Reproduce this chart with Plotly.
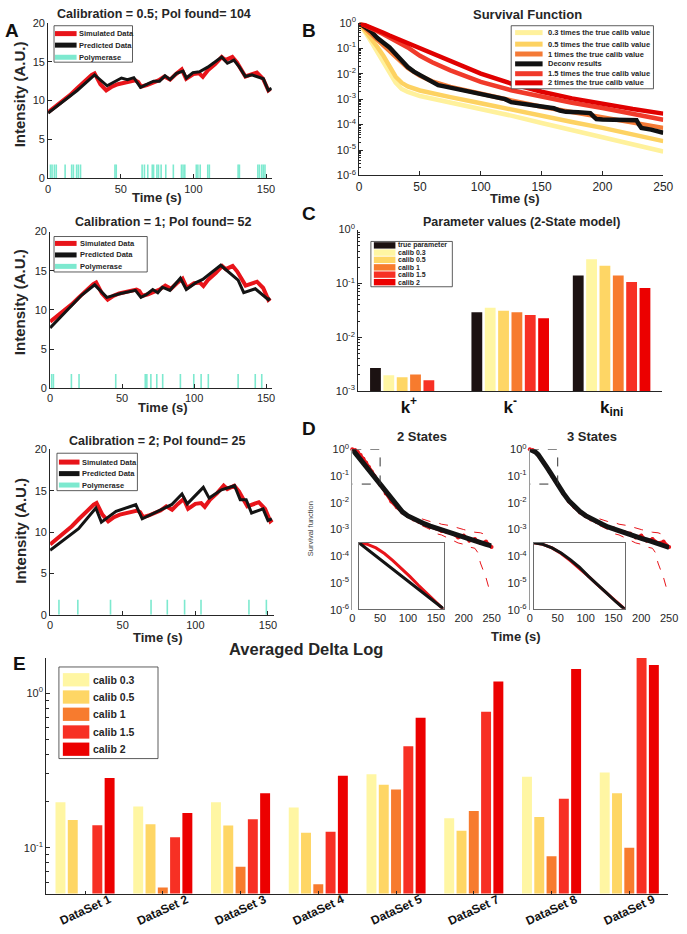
import plotly.graph_objects as go

W, H = 687, 934
FONT = "Liberation Sans, Arial, Helvetica, sans-serif"
TXT = "#262626"

# ---------------- Panel A : intensity traces ----------------
sim_t = [0, 5, 10, 15, 20, 25, 30, 32, 36, 40, 44, 48, 52, 56, 60, 62, 64, 68, 72, 76,
         80, 84, 88, 92, 95, 100, 104, 106.5, 110, 115, 119.5, 122, 126.8, 130, 135.8, 140, 143.7, 148, 151.6, 153]
sim_I = [8.5, 9.2, 9.9, 10.7, 11.6, 12.5, 13.3, 13.5, 12.1, 11.3, 11.8, 12.1, 12.3, 12.5, 12.6, 12.4, 11.8, 12.0, 12.3, 12.6,
         13.1, 12.7, 13.4, 14.0, 12.8, 13.4, 13.5, 13.05, 13.9, 14.7, 15.6, 15.2, 15.6, 14.9, 13.1, 13.4, 13.6, 12.8, 11.3, 11.5]

pred1_t = [0, 10, 20, 32, 40.6, 50.5, 54.6, 59, 63.6, 69.3, 72.6, 76.7, 80.5, 83.9, 88.4, 92.9, 95.2, 99.7, 104.2, 109.9,
           119.5, 123.4, 127.9, 131.7, 135.8, 140.3, 144.8, 148.2, 151.6, 153.8]
pred1_I = [8.4, 9.8, 11.3, 13.3, 11.9, 12.9, 12.7, 12.95, 11.7, 12.2, 12.5, 12.5, 13.2, 12.7, 13.5, 13.8, 12.9, 13.6, 13.7, 14.3,
           15.6, 14.8, 15.2, 14.3, 13.1, 13.3, 13.05, 12.8, 11.3, 11.6]

pred2_t = [0, 12.5, 22, 31, 39.4, 49, 59.3, 63.1, 67.2, 71.3, 74.8, 78, 83.2, 90.5, 94.6, 101.4, 106, 118.5, 130.6, 134.5,
           142.5, 151.6, 152.7]
pred2_I = [7.7, 10.1, 11.9, 13.2, 11.6, 12.1, 12.5, 11.6, 12.0, 12.6, 12.2, 12.9, 12.5, 14.05, 12.6, 13.5, 13.9, 15.7, 13.8, 12.2,
           12.7, 11.3, 11.5]

pred3_t = [0, 19.6, 31.5, 35.3, 45.4, 59, 63.4, 73.5, 83.6, 90.8, 94.4, 105.5, 109.5, 118, 127, 130.9, 135, 138.7, 146.6, 150, 152.7]
pred3_I = [7.8, 10.4, 12.9, 11.2, 12.5, 13.3, 11.6, 12.5, 13.3, 14.6, 13.4, 15.4, 14.1, 15.1, 15.6, 13.9, 13.9, 12.3, 12.8, 11.4, 11.6]

pol1 = [1.6, 2.7, 4.3, 5.6, 11.7, 16.2, 17.4, 19.6, 20.8, 22.3, 46.0, 46.9, 64.7, 66.3, 68.6, 71.7, 72.6, 74.9, 76.0, 77.8,
        81.0, 86.2, 91.8, 92.9, 94.1, 102.0, 103.1, 104.7, 109.9, 111.0, 130.8, 131.7, 144.4, 145.5, 147.1, 148.2, 149.3]
pol2 = [1.1, 2.3, 14.8, 20.1, 45.6, 66.1, 67.2, 70.0, 74.1, 78.2, 90.5, 99.8, 104.9, 109.9, 130.6, 142.5, 147.0]
pol3 = [6.1, 19.1, 41.6, 69.5, 80.7, 92.6, 103.9, 136.9, 148.9]
pol_height = 1.8

a_titles = ["Calibration = 0.5; Pol found= 104", "Calibration = 1; Pol found= 52", "Calibration = 2; Pol found= 25"]

# ---------------- Panel B : survival functions (log10 values) ----------------
B_t = [0, 5, 10, 15, 20, 25, 30, 35, 40, 50, 60, 75, 100, 125, 150, 175, 200, 225, 250]
B_c03 = [0, -0.35, -0.75, -1.15, -1.55, -1.95, -2.35, -2.6, -2.72, -2.88, -2.98, -3.12, -3.37, -3.65, -3.94, -4.23, -4.52, -4.79, -5.06]
B_c05 = [0, -0.3, -0.62, -0.95, -1.3, -1.75, -2.12, -2.36, -2.5, -2.66, -2.78, -2.92, -3.16, -3.42, -3.68, -3.9, -4.13, -4.39, -4.65]
B_c1 = [0, -0.22, -0.45, -0.68, -0.92, -1.15, -1.38, -1.58, -1.78, -2.08, -2.3, -2.52, -2.8, -3.05, -3.3, -3.5, -3.7, -3.9, -4.13]
B_c15 = [0, -0.1, -0.21, -0.33, -0.45, -0.58, -0.71, -0.84, -0.97, -1.3, -1.55, -1.87, -2.32, -2.65, -2.9, -3.14, -3.35, -3.57, -3.81]
B_c2 = [0, -0.09, -0.19, -0.29, -0.39, -0.5, -0.6, -0.7, -0.8, -0.97, -1.17, -1.48, -2.0, -2.39, -2.71, -2.97, -3.19, -3.39, -3.57]
B_dec_t = [0, 5, 10, 15, 20, 25, 30, 35, 40, 45, 50, 55, 60, 65, 70, 80, 90, 100, 110, 115,
           120, 125, 130, 140, 150, 160, 165, 170, 180, 190, 193, 195, 200, 210, 220, 228, 230, 232, 240, 250]
B_dec = [0, -0.15, -0.35, -0.6, -0.8, -0.97, -1.23, -1.5, -1.74, -1.92, -2.06, -2.2, -2.33, -2.45, -2.5, -2.6, -2.72, -2.84, -2.92, -2.97,
         -3.0, -3.12, -3.16, -3.22, -3.29, -3.36, -3.45, -3.5, -3.52, -3.55, -3.7, -3.78, -3.8, -3.81, -3.82, -3.83, -4.0, -4.13, -4.2, -4.32]
B_names = ["0.3 times the true calib value", "0.5 times the true calib value", "1 times the true calib value",
           "Deconv results", "1.5 times the true calib value", "2 times the true calib value"]

# ---------------- Panel C : parameter values ----------------
C_params = ["k+", "k-", "kini"]
C_ticktext = ["<b>k<sup>+</sup></b>", "<b>k<sup>-</sup></b>", "<b>k<sub>ini</sub></b>"]
C_true = [2.68e-3, 0.0291, 0.14]
C_c03 = [1.97e-3, 0.0355, 0.283]
C_c05 = [1.81e-3, 0.0313, 0.213]
C_c1 = [2.05e-3, 0.0291, 0.14]
C_c15 = [1.6e-3, 0.026, 0.106]
C_c2 = [None, 0.0226, 0.0824]

# ---------------- Panel D : survival fits (log10 values) ----------------
D_t = [0, 5, 10, 15, 20, 25, 30, 35, 40, 45, 50, 60, 70, 80, 90, 100, 110, 120, 130, 140,
       150, 160, 170, 180, 190, 200, 210, 220, 230, 240, 250]
D_data = [0, -0.03, -0.1, -0.21, -0.35, -0.5, -0.66, -0.83, -1.0, -1.17, -1.33, -1.65, -1.95, -2.17, -2.36, -2.5, -2.62, -2.72, -2.82, -2.9,
          -2.95, -3.05, -3.1, -3.15, -3.3, -3.22, -3.42, -3.35, -3.5, -3.45, -3.65]
D_fit2 = [0, -0.13, -0.26, -0.39, -0.52, -0.65, -0.78, -0.91, -1.04, -1.17, -1.3, -1.58, -1.87, -2.13, -2.34, -2.49, -2.6, -2.7, -2.79, -2.87,
          -2.94, -3.02, -3.1, -3.17, -3.24, -3.3, -3.36, -3.42, -3.49, -3.55, -3.61]
D_fit3 = [0, -0.03, -0.1, -0.2, -0.33, -0.48, -0.66, -0.82, -0.99, -1.16, -1.33, -1.64, -1.92, -2.15, -2.33, -2.48, -2.6, -2.71, -2.8, -2.9,
          -2.98, -3.06, -3.13, -3.2, -3.27, -3.33, -3.39, -3.46, -3.53, -3.6, -3.67]
D_hi_t = [125, 140, 150, 160, 175, 190, 200, 210, 220, 230, 240, 247]
D_hi = [-2.6, -2.7, -2.72, -2.8, -2.85, -2.95, -3.0, -3.05, -3.1, -3.12, -3.2, -3.25]
D_lo_t = [125, 140, 150, 160, 175, 190, 200, 210, 220, 225, 230, 240, 247]
D_lo = [-2.85, -3.0, -3.15, -3.2, -3.35, -3.5, -3.55, -3.65, -3.7, -3.85, -4.25, -4.8, -5.32]
INSET_T = [0, 50]
INSET_LOG = [-1.3, 0]

# ---------------- Panel E : averaged delta log ----------------
E_sets = ["DataSet 1", "DataSet 2", "DataSet 3", "DataSet 4", "DataSet 5", "DataSet 7", "DataSet 8", "DataSet 9"]
E_c03 = [0.197, 0.185, 0.197, 0.182, 0.299, 0.155, 0.288, 0.306]
E_c05 = [0.151, 0.142, 0.139, 0.125, 0.255, 0.129, 0.158, 0.225]
E_c1 = [None, 0.0554, 0.0753, 0.058, 0.238, 0.173, 0.088, 0.100]
E_c15 = [0.140, 0.117, 0.153, 0.127, 0.453, 0.757, 0.207, 1.72]
E_c2 = [0.282, 0.168, 0.225, 0.292, 0.693, 1.19, 1.43, 1.52]
calib_names = ["calib 0.3", "calib 0.5", "calib 1", "calib 1.5", "calib 2"]

# colours
COL_TRUE = "#1c1212"
COL_C = ["#fff6a3", "#fed665", "#f77b2e", "#f73024", "#ec0000"]
COL_B = ["#fff19c", "#fdd262", "#f47a36", "#111111", "#f03a2a", "#e00000"]
RED = "#e8141a"
BLACK = "#141414"
CYAN = "#7de9cf"


def X(p):
    return p / W


def Y(p):
    return 1 - p / H


def lg(vals):
    return [10 ** v for v in vals]


fig = go.Figure()
layout = dict(width=W, height=H, margin=dict(l=0, r=0, t=0, b=0), autosize=False,
              paper_bgcolor="white", plot_bgcolor="white", showlegend=False,
              barmode="group", bargap=0.21, bargroupgap=0.19,
              font=dict(family=FONT, color=TXT))
shapes = []
annotations = []

BASE = dict(showgrid=False, zeroline=False, showline=True, linecolor="#262626", linewidth=1,
            ticks="inside", ticklen=4, tickwidth=1, tickcolor="#262626",
            tickfont=dict(family=FONT, size=11, color=TXT), fixedrange=True)


def add_axes(n, xpx, ypx, xkw, ykw):
    xn = "xaxis" if n == 1 else "xaxis%d" % n
    yn = "yaxis" if n == 1 else "yaxis%d" % n
    xa = dict(BASE)
    xa.update(domain=[X(xpx[0]), X(xpx[1])], anchor="y" if n == 1 else "y%d" % n)
    xa.update(xkw)
    ya = dict(BASE)
    ya.update(domain=[Y(ypx[1]), Y(ypx[0])], anchor="x" if n == 1 else "x%d" % n)
    ya.update(ykw)
    layout[xn] = xa
    layout[yn] = ya


def ref(n):
    return ("x", "y") if n == 1 else ("x%d" % n, "y%d" % n)


def text(s, x, y, size, bold=True, angle=0, color=TXT, anchor="center"):
    annotations.append(dict(text=("<b>%s</b>" % s) if bold else s, x=X(x), y=Y(y), xref="paper", yref="paper",
                            showarrow=False, xanchor=anchor, yanchor="middle", textangle=angle, borderpad=0,
                            font=dict(family=FONT, size=size, color=color)))


def legend_box(box, rows, swx, textx, size, kind, thick):
    shapes.append(dict(type="rect", xref="paper", yref="paper", x0=X(box[0]), x1=X(box[2]),
                       y0=Y(box[3]), y1=Y(box[1]), line=dict(color="#333333", width=0.8),
                       fillcolor="white", layer="above"))
    for label, color, yc in rows:
        if kind == "line":
            shapes.append(dict(type="line", xref="paper", yref="paper", x0=X(swx[0]), x1=X(swx[1]),
                               y0=Y(yc), y1=Y(yc), line=dict(color=color, width=thick), layer="above"))
        else:
            shapes.append(dict(type="rect", xref="paper", yref="paper", x0=X(swx[0]), x1=X(swx[1]),
                               y0=Y(yc + thick / 2), y1=Y(yc - thick / 2), line=dict(width=0),
                               fillcolor=color, layer="above"))
        text(label, textx, yc, size, anchor="left")


# ---------------- Panel A ----------------
A_geom = [
    dict(x=(46, 274), y=(15, 173), title=(154, 6), time=(157, 192), inten=(17, 88),
         box=(52, 18, 132, 55), swx=(53, 75), tx=76, rows=(26, 37.7, 50)),
    dict(x=(48, 274), y=(227, 386), title=(163, 217.5), time=(163, 406), inten=(17, 299),
         box=(52, 232, 147, 268), swx=(53, 75), tx=77, rows=(239, 250.7, 262.3)),
    dict(x=(48, 276), y=(448, 616), title=(157, 440), time=(157.5, 639), inten=(17, 531),
         box=(55, 452, 137, 490), swx=(57, 78), tx=79, rows=(461, 472.7, 484.3)),
]
preds = [(pred1_t, pred1_I), (pred2_t, pred2_I), (pred3_t, pred3_I)]
pols = [pol1, pol2, pol3]
for i in range(3):
    n = i + 1
    g = A_geom[i]
    add_axes(n, g["x"], g["y"],
             dict(range=[0, 154], tickvals=[0, 50, 100, 150]),
             dict(range=[0, 20], tickvals=[0, 5, 10, 15, 20]))
    xr, yr = ref(n)
    px, py = [], []
    for t in pols[i]:
        px += [t, t, None]
        py += [0, pol_height, None]
    fig.add_trace(go.Scatter(x=px, y=py, mode="lines", line=dict(color=CYAN, width=1.6),
                             xaxis=xr, yaxis=yr, hoverinfo="skip"))
    fig.add_trace(go.Scatter(x=sim_t, y=sim_I, mode="lines", line=dict(color=RED, width=4),
                             xaxis=xr, yaxis=yr, name="Simulated Data"))
    fig.add_trace(go.Scatter(x=preds[i][0], y=preds[i][1], mode="lines", line=dict(color=BLACK, width=3),
                             xaxis=xr, yaxis=yr, name="Predicted Data"))
    text(a_titles[i], g["title"][0], g["title"][1], 12.5)
    text("Time (s)", g["time"][0], g["time"][1], 13)
    text("Intensity (A.U.)", g["inten"][0], g["inten"][1], 15, angle=-90)
    r = g["rows"]
    legend_box(g["box"], [("Simulated Data", RED, r[0]), ("Predicted Data", BLACK, r[1]), ("Polymerase", CYAN, r[2])],
               g["swx"], g["tx"], 7.5, "line", 5)

# ---------------- Panel B ----------------
log_ticks6 = [10 ** e for e in range(-6, 1)]
log_text6 = ["10<sup>%d</sup>" % e for e in range(-6, 1)]
minor6 = [k * 10 ** e for e in range(-6, 0) for k in range(2, 10)]
add_axes(4, (363, 673), (15, 170),
         dict(range=[0, 250], tickvals=[0, 50, 100, 150, 200, 250], tickfont=dict(family=FONT, size=12, color=TXT)),
         dict(type="log", range=[-6, 0], tickvals=log_ticks6, ticktext=log_text6,
              minor=dict(ticks="inside", ticklen=2, tickcolor="#262626", tickvals=minor6)))
B_series = [(B_t, B_c03), (B_t, B_c05), (B_t, B_c1), (B_dec_t, B_dec), (B_t, B_c15), (B_t, B_c2)]
for k, (tt, vv) in enumerate(B_series):
    fig.add_trace(go.Scatter(x=tt, y=lg(vv), mode="lines", line=dict(color=COL_B[k], width=4.5),
                             xaxis="x4", yaxis="y4", name=B_names[k], cliponaxis=False))
text("Survival Function", 535, 7, 13)
text("Time (s)", 522, 193, 13)
legend_box((518, 18, 663, 82), [(B_names[k], COL_B[k], yc) for k, yc in enumerate([25, 36.7, 46.7, 56.7, 66.7, 76])],
           (522, 550), 554, 7.5, "line", 5)

# ---------------- Panel C ----------------
minor3 = [k * 10 ** e for e in range(-3, 0) for k in range(2, 10)]
add_axes(5, (362, 672), (225, 389),
         dict(type="category", range=[-0.5, 2.5], tickvals=C_params, ticktext=C_ticktext, ticks="",
              tickfont=dict(family=FONT, size=17, color="#111111")),
         dict(type="log", range=[-3, 0], tickvals=[1e-3, 1e-2, 1e-1, 1], ticktext=["10<sup>-3</sup>", "10<sup>-2</sup>", "10<sup>-1</sup>", "10<sup>0</sup>"],
              minor=dict(ticks="inside", ticklen=2, tickcolor="#262626", tickvals=minor3)))
C_series = [("true parameter", COL_TRUE, C_true)] + list(zip(calib_names, COL_C, [C_c03, C_c05, C_c1, C_c15, C_c2]))
for name, col, vals in C_series:
    fig.add_trace(go.Bar(x=C_params, y=vals, marker=dict(color=col, line=dict(width=0)), name=name,
                         xaxis="x5", yaxis="y5"))
text("Parameter values (2-State model)", 528, 217, 12.5)
legend_box((375, 237, 458, 283), [(nm, col, yc) for (nm, col, _), yc in zip(C_series, [241, 248.3, 255.7, 263.3, 270.7, 278.3])],
           (378, 400), 402, 7.0, "rect", 6.5)

# ---------------- Panel D ----------------
D_geom = [dict(n=6, x=(356, 498), title="2 States", tx=427, fit=D_fit2, inset=(8, (363, 449))),
          dict(n=7, x=(537, 679), title="3 States", tx=600, fit=D_fit3, inset=(9, (541, 634)))]
for g in D_geom:
    n = g["n"]
    add_axes(n, g["x"], (448, 611),
             dict(range=[0, 250], tickvals=[0, 50, 100, 150, 200, 250], showline=False, ticks=""),
             dict(type="log", range=[-6, 0], tickvals=log_ticks6, ticktext=log_text6, ticks="",
                  linecolor="#9a9a9a"))
    xr, yr = ref(n)
    fig.add_trace(go.Scatter(x=D_t, y=lg(D_data), mode="lines+markers", line=dict(color=RED, width=3),
                             marker=dict(color=RED, size=4), xaxis=xr, yaxis=yr, cliponaxis=False))
    fig.add_trace(go.Scatter(x=D_hi_t, y=lg(D_hi), mode="lines", line=dict(color=RED, width=1, dash="dash"),
                             xaxis=xr, yaxis=yr))
    fig.add_trace(go.Scatter(x=D_lo_t, y=lg(D_lo), mode="lines", line=dict(color=RED, width=1, dash="dash"),
                             xaxis=xr, yaxis=yr))
    fig.add_trace(go.Scatter(x=D_t, y=lg(g["fit"]), mode="lines", line=dict(color=BLACK, width=5),
                             xaxis=xr, yaxis=yr, cliponaxis=False))
    # dashed zoom rectangle (bounds of the inset)
    fig.add_trace(go.Scatter(x=[INSET_T[0], INSET_T[1], INSET_T[1], INSET_T[0]],
                             y=[10 ** INSET_LOG[1], 10 ** INSET_LOG[1], 10 ** INSET_LOG[0], 10 ** INSET_LOG[0]],
                             mode="lines", line=dict(color="#333333", width=1, dash="dash"),
                             xaxis=xr, yaxis=yr, cliponaxis=False))
    text(g["title"], g["tx"], 435.5, 13)
    # inset
    m, ix = g["inset"]
    add_axes(m, ix, (543, 610),
             dict(range=INSET_T, showticklabels=False, ticks="", mirror=True, linecolor="#6a6a6a"),
             dict(type="log", range=INSET_LOG, showticklabels=False, ticks="", mirror=True, linecolor="#6a6a6a"))
    xr2, yr2 = ref(m)
    fig.add_trace(go.Scatter(x=D_t, y=lg(D_data), mode="lines", line=dict(color=RED, width=3),
                             xaxis=xr2, yaxis=yr2))
    fig.add_trace(go.Scatter(x=D_t, y=lg(g["fit"]), mode="lines", line=dict(color=BLACK, width=3),
                             xaxis=xr2, yaxis=yr2))
text("Time (s)", 523, 638.5, 13)
text("Survival function", 313, 529, 7.5, bold=False, angle=-90, color="#444444")

# ---------------- Panel E ----------------
minorE = [0.06, 0.07, 0.08, 0.09, 0.2, 0.3, 0.4, 0.5, 0.6, 0.7, 0.8, 0.9]
add_axes(10, (44, 678), (660, 899),
         dict(type="category", range=[-0.5, 7.5], showticklabels=False, ticklen=3),
         dict(type="log", range=[-1.296, 0.226], tickvals=[0.1, 1], ticktext=["10<sup>-1</sup>", "10<sup>0</sup>"],
              minor=dict(ticks="inside", ticklen=3, tickcolor="#262626", tickvals=minorE)))
for name, col, vals in zip(calib_names, COL_C, [E_c03, E_c05, E_c1, E_c15, E_c2]):
    fig.add_trace(go.Bar(x=E_sets, y=vals, marker=dict(color=col, line=dict(width=0)), name=name,
                         xaxis="x10", yaxis="y10"))
for s in E_sets:
    annotations.append(dict(text="<b>%s</b>" % s, x=s, y=Y(915.5), xref="x10", yref="paper", showarrow=False,
                            xanchor="center", yanchor="middle", textangle=-25, borderpad=0,
                            font=dict(family=FONT, size=12, color="#111111")))
text("Averaged Delta Log", 309, 651, 16.5)
legend_box((57, 669, 158, 762), [(nm, col, yc) for nm, col, yc in zip(calib_names, COL_C, [682, 699.5, 717, 735, 752.5])],
           (61, 88), 91, 10.5, "rect", 13.5)

# ---------------- panel letters ----------------
for lab, x, y in [("A", 9, 23), ("B", 312, 23), ("C", 312, 209), ("D", 312, 427), ("E", 17, 665)]:
    text(lab, x, y, 19, color="#111111")

layout["shapes"] = shapes
layout["annotations"] = annotations
fig.update_layout(**layout)
fig.write_html("out.html", config={"displayModeBar": False},
               post_script="document.body.style.margin='0px';document.body.style.overflow='hidden';")
